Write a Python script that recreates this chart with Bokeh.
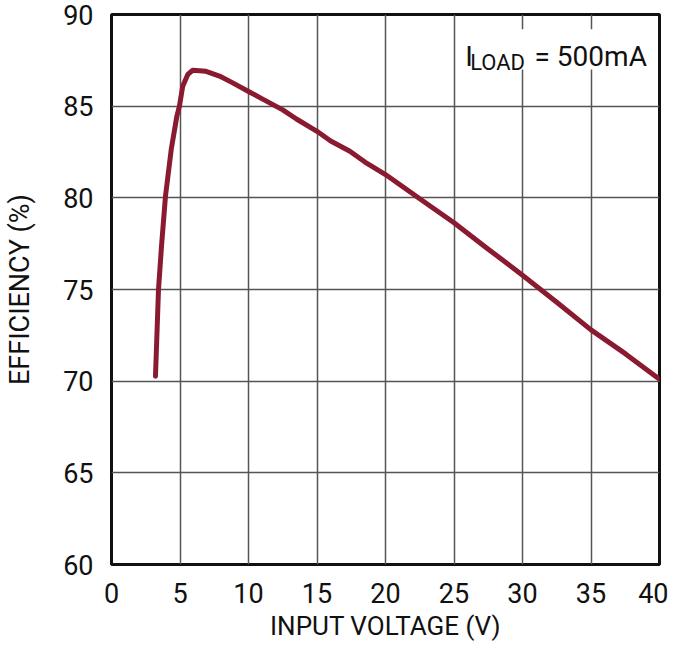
from bokeh.plotting import figure
from bokeh.models import Label, BoxAnnotation, FixedTicker
from bokeh.embed import file_html
from bokeh.resources import INLINE

# Data
vin = [3.21, 3.43, 3.65, 3.94, 4.36, 4.77, 4.96, 5.2, 5.57, 5.93, 6.9, 7.88, 8.85, 10.0,
       11.0, 12.5, 13.5, 15.0, 16.0, 17.4, 18.5, 20.0, 22.5, 25.0, 27.5, 30.0, 32.5,
       35.0, 37.5, 40.0]
eff = [70.27, 75.0, 77.36, 80.09, 82.64, 84.45, 85.0, 86.09, 86.73, 86.96, 86.9, 86.64, 86.27, 85.8,
       85.4, 84.8, 84.3, 83.63, 83.1, 82.54, 81.95, 81.27, 79.95, 78.64, 77.2, 75.78, 74.3,
       72.8, 71.5, 70.1]
x_ticks = [0, 5, 10, 15, 20, 25, 30, 35, 40]
y_ticks = [60, 65, 70, 75, 80, 85, 90]

FONT = "Roboto"
CURVE = "#8a1a30"

p = figure(width=668, height=651, x_range=(0, 40), y_range=(60, 90),
           output_backend="svg", toolbar_location=None,
           min_border_left=111, min_border_right=9, min_border_top=14, min_border_bottom=87)

p.line(vin, eff, line_color=CURVE, line_width=5, line_join="round", line_cap="round")

p.xaxis.ticker = FixedTicker(ticks=x_ticks)
p.yaxis.ticker = FixedTicker(ticks=y_ticks)
for ax in (p.xaxis[0], p.yaxis[0]):
    ax.axis_line_color = None
    ax.major_tick_line_color = None
    ax.minor_tick_line_color = None
    ax.major_label_text_font = FONT
    ax.major_label_text_font_size = "27px"
    ax.major_label_text_color = "#111111"
    ax.axis_label_text_font = FONT
    ax.axis_label_text_font_size = "26px"
    ax.axis_label_text_font_style = "normal"
    ax.axis_label_text_color = "#111111"
p.yaxis.axis_label_text_font_size = "27px"
p.xaxis.axis_label = "INPUT VOLTAGE (V)"
p.yaxis.axis_label = "EFFICIENCY (%)"
p.xaxis.major_label_standoff = 12
p.yaxis.major_label_standoff = 12
p.xaxis.axis_label_standoff = 5
p.yaxis.axis_label_standoff = 24

p.grid.grid_line_color = "#555555"
p.grid.grid_line_width = 1.5
p.grid.grid_line_alpha = 1.0
p.outline_line_color = "#111111"
p.outline_line_width = 3
p.background_fill_color = "white"
p.border_fill_color = "white"

box = BoxAnnotation(left=25.2, right=39.3, bottom=87.0, top=89.2,
                    fill_color="white", fill_alpha=1.0, line_color=None)
p.add_layout(box)

p.add_layout(Label(x=25.82, y=87.73, text="I", text_font=FONT, text_font_size="28px",
                   text_color="#111111", text_baseline="alphabetic"))
p.add_layout(Label(x=26.18, y=87.36, text="LOAD", text_font=FONT, text_font_size="22px",
                   text_color="#111111", text_baseline="alphabetic"))
p.add_layout(Label(x=30.88, y=87.73, text="= 500mA", text_font=FONT, text_font_size="28px",
                   text_color="#111111", text_baseline="alphabetic"))

open("out.html", "w").write(file_html(p, INLINE))
